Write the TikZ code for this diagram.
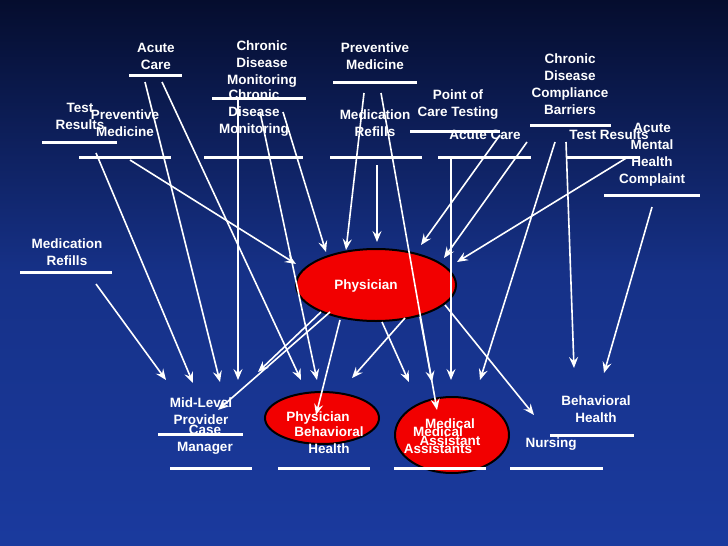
\documentclass[tikz,border=0pt]{standalone}
\usepackage{fontspec}
\setmainfont{Liberation Sans}
\usetikzlibrary{shapes.geometric,arrows.meta}
\definecolor{navytop}{HTML}{050D2E}
\definecolor{navybot}{HTML}{1A3A9E}
\definecolor{slidered}{HTML}{F20000}

\begin{document}
\begin{tikzpicture}[x=1pt,y=-1pt,
    lbl/.style={white,font=\fontsize{13.5}{17}\selectfont\bfseries,align=center,inner sep=0pt},
    bar/.style={white,line width=3pt},
    arr/.style={white,line width=1.6pt,-{Stealth[length=11pt,width=9pt,inset=4pt]}},
    blob/.style={ellipse,draw=black,line width=2pt,fill=slidered}]
        % Background
        \shade[top color=navytop,bottom color=navybot,middle color=navybot!80!navytop] (0,0) rectangle (728,546);
        \useasboundingbox (0,0) rectangle (728,546);

        % Top labels
        \node[lbl] (acute1) at (156,56) {Acute\\Care};
        \draw[bar] (129,75) -- (182,75);
        \node[lbl] (chronic1) at (262,64) {Chronic\\Disease\\Monitoring};
        \draw[bar] (212,98) -- (306,98);
        \node[lbl] (prev1) at (375,56) {Preventive\\Medicine};
        \draw[bar] (333,82) -- (417,82);
        \node[lbl] (test1) at (80,116) {Test\\Results};
        \draw[bar] (42,142) -- (117,142);
        \node[lbl] (prev2) at (125,123) {Preventive\\Medicine};
        \draw[bar] (79,157) -- (171,157);
        \node[lbl] (chronic2) at (254,113) {Chronic\\Disease\\Monitoring};
        \draw[bar] (204,157) -- (303,157);
        \node[lbl] (medref1) at (375,123) {Medication\\Refills};
        \draw[bar] (330,157) -- (422,157);
        \node[lbl] (poc) at (458,105) {Point of\\Care Testing};
        \draw[bar] (410,131) -- (500,131);
        \node[lbl] (acute2) at (485,135) {Acute Care};
        \draw[bar] (438,157) -- (531,157);
        \node[lbl] (comply) at (570,84) {Chronic\\Disease\\Compliance\\Barriers};
        \draw[bar] (530,125) -- (611,125);
        \node[lbl] (test2) at (609,135) {Test Results};
        \draw[bar] (566,157) -- (640,157);
        \node[lbl] (mental) at (652,155) {Acute\\Mental\\Health\\Complaint};
        \draw[bar] (604,195) -- (700,195);
        \node[lbl] (medref2) at (67,252) {Medication\\Refills};
        \draw[bar] (20,272) -- (112,272);

        % Ellipses
        \node[blob,minimum width=160,minimum height=72] (phys) at (376,285) {};
        \node[lbl] at (366,286) {Physician};
        \node[blob,minimum width=114,minimum height=52] (physbh) at (322,418) {};
        \node[blob,minimum width=114,minimum height=76] (medasst) at (452,435) {};

        % Bottom labels
        \node[lbl] (midlevel) at (201,411) {Mid-Level\\Provider};
        \draw[bar] (158,434) -- (243,434);
        \node[lbl] (caseman) at (205,440) {Case\\Manager};
        \draw[bar] (170,468) -- (252,468);
        \node[lbl] at (318,418) {Physician};
        \node[lbl] (behav1) at (329,440) {Behavioral\\Health};
        \draw[bar] (278,468) -- (370,468);
        \node[lbl] at (450,432) {Medical\\Assistant};
        \node[lbl] (medas) at (438,440) {Medical\\Assistants};
        \draw[bar] (394,468) -- (486,468);
        \node[lbl] (nursing) at (551,444) {Nursing};
        \draw[bar] (510,468) -- (603,468);
        \node[lbl] (behav2) at (596,409) {Behavioral\\Health};
        \draw[bar] (550,435) -- (634,435);

        % Arrows into Physician
        \draw[arr] (130,160) -- (296,264);
        \draw[arr] (283,112) -- (326,252);
        \draw[arr] (364,93) -- (346,250);
        \draw[arr] (377,165) -- (377,242);
        \draw[arr] (500,135) -- (421,245);
        \draw[arr] (527,142) -- (444,258);
        \draw[arr] (628,157) -- (457,262);

        % Arrows into the lower roles
        \draw[arr] (96,284) -- (166,380);
        \draw[arr] (96,153) -- (193,383);
        \draw[arr] (145,82) -- (220,382);
        \draw[arr] (162,82) -- (301,380);
        \draw[arr] (238,98) -- (238,380);
        \draw[arr] (260,112) -- (317,380);
        \draw[arr] (381,93) -- (437,410);
        \draw[arr] (451,157) -- (451,380);
        \draw[arr] (555,142) -- (480,380);
        \draw[arr] (566,142) -- (574,368);
        \draw[arr] (652,207) -- (604,373);

        % Arrows out of Physician
        \draw[arr] (321,312) -- (258,372);
        \draw[arr] (330,312) -- (218,410);
        \draw[arr] (340,320) -- (316,415);
        \draw[arr] (405,318) -- (352,378);
        \draw[arr] (382,322) -- (409,382);
        \draw[arr] (420,317) -- (432,382);
        \draw[arr] (445,305) -- (534,415);
\end{tikzpicture}
\end{document}
